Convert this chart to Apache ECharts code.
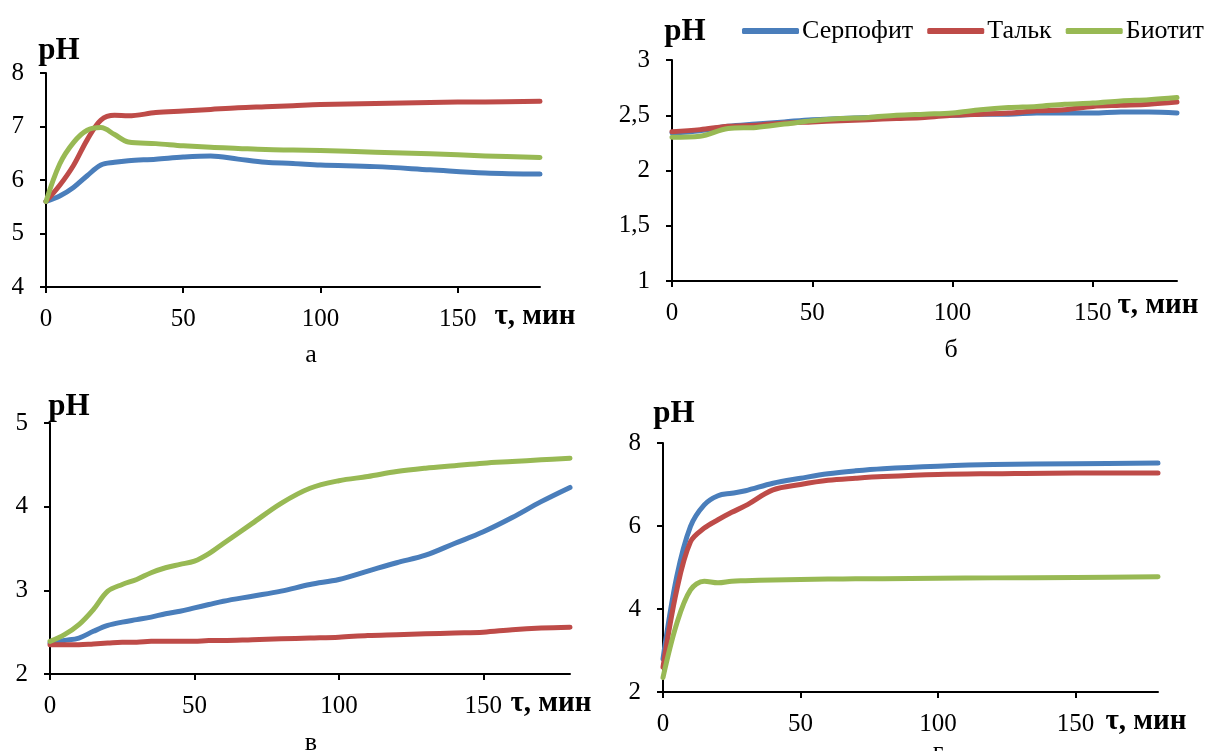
<!DOCTYPE html>
<html>
<head>
<meta charset="utf-8">
<script src="https://cdn.jsdelivr.net/npm/echarts@6/dist/echarts.min.js"></script>
<style>
html,body{margin:0;padding:0;background:#fff;}
#c{width:1209px;height:751px;}
</style>
</head>
<body>
<div id="c"></div>
<script>
// ---- data ----
const seriesNames = ['Серпофит', 'Тальк', 'Биотит'];
const xTicks = [0, 50, 100, 150];

// panel а
const tA = [0,5,10,15,20,25,30,40,50,60,70,80,90,100,120,140,160,180];
const aSerp  = [5.6,5.7,5.86,6.08,6.28,6.33,6.36,6.39,6.43,6.45,6.39,6.33,6.31,6.28,6.25,6.19,6.13,6.11];
const aTalk  = [5.6,5.9,6.27,6.75,7.12,7.21,7.2,7.26,7.29,7.32,7.35,7.37,7.39,7.41,7.43,7.45,7.46,7.47];
const aBiot  = [5.6,6.3,6.7,6.93,6.98,6.85,6.71,6.68,6.64,6.61,6.59,6.57,6.56,6.55,6.52,6.49,6.45,6.42];

// panel б
const tB = [0,10,20,30,40,50,60,70,80,90,100,110,120,130,140,150,160,170,180];
const bSerp  = [2.34,2.36,2.40,2.42,2.44,2.46,2.47,2.48,2.49,2.50,2.50,2.51,2.51,2.52,2.52,2.52,2.53,2.53,2.52];
const bTalk  = [2.35,2.37,2.40,2.41,2.43,2.44,2.45,2.46,2.47,2.48,2.50,2.51,2.52,2.54,2.55,2.58,2.59,2.60,2.62];
const bBiot  = [2.30,2.31,2.38,2.39,2.42,2.45,2.47,2.48,2.50,2.51,2.52,2.55,2.57,2.58,2.60,2.61,2.63,2.64,2.66];

// panel в
const tV = [0,5,10,15,20,25,30,35,40,45,50,55,60,70,80,90,100,110,120,130,140,150,160,170,180];
const vSerp  = [2.37,2.40,2.43,2.51,2.58,2.62,2.65,2.68,2.72,2.75,2.79,2.83,2.87,2.93,2.99,3.07,3.13,3.23,3.33,3.42,3.56,3.70,3.87,4.06,4.23];
const vTalk  = [2.35,2.35,2.35,2.36,2.37,2.38,2.38,2.39,2.39,2.39,2.39,2.40,2.40,2.41,2.42,2.43,2.44,2.46,2.47,2.48,2.49,2.50,2.53,2.55,2.56];
const vBiot  = [2.39,2.47,2.59,2.77,2.99,3.07,3.13,3.21,3.27,3.31,3.35,3.44,3.56,3.80,4.04,4.22,4.31,4.36,4.42,4.46,4.49,4.52,4.54,4.56,4.58];

// panel г
const tG = [0,5,10,15,20,25,30,40,50,60,70,80,100,120,150,180];
const gSerp  = [2.8,4.78,5.99,6.51,6.73,6.79,6.85,7.03,7.15,7.26,7.33,7.38,7.44,7.48,7.50,7.52];
const gTalk  = [2.6,4.46,5.62,5.95,6.15,6.33,6.49,6.87,7.0,7.10,7.15,7.19,7.24,7.26,7.28,7.28];
const gBiot  = [2.35,3.65,4.46,4.67,4.63,4.67,4.68,4.70,4.71,4.72,4.73,4.73,4.74,4.75,4.76,4.78];

// y axis ranges per panel
const yRanges = [
  {min: 4, max: 8, interval: 1},
  {min: 1, max: 3, interval: 0.5},
  {min: 2, max: 5, interval: 1},
  {min: 2, max: 8, interval: 2}
];

// ---- styling ----
const colors = ['#4a7ebb', '#be4b48', '#98b954'];
const FONT = '"Liberation Serif", "Times New Roman", serif';
const grids = [
  {left: 46, top: 73, width: 494, height: 214},
  {left: 672, top: 60, width: 505, height: 221},
  {left: 50, top: 423, width: 520, height: 251},
  {left: 663, top: 443, width: 495, height: 249}
];

const panels = [
  {t: tA, s: [aSerp, aTalk, aBiot]},
  {t: tB, s: [bSerp, bTalk, bBiot]},
  {t: tV, s: [vSerp, vTalk, vBiot]},
  {t: tG, s: [gSerp, gTalk, gBiot]}
];

const axisLineStyle = {show: true, lineStyle: {color: '#000', width: 2}};
const tickStyle = {show: true, length: 6, lineStyle: {color: '#000', width: 2}};

const xAxis = grids.map((g, i) => ({
  type: 'value', gridIndex: i, min: 0, max: 180, interval: 50,
  axisLine: axisLineStyle,
  axisTick: Object.assign({customValues: xTicks}, tickStyle),
  axisLabel: {customValues: xTicks, margin: 20, fontSize: 25, fontFamily: FONT, color: '#000'},
  splitLine: {show: false}
}));

const yAxis = grids.map((g, i) => ({
  type: 'value', gridIndex: i,
  min: yRanges[i].min, max: yRanges[i].max, interval: yRanges[i].interval,
  axisLine: axisLineStyle,
  axisTick: tickStyle,
  axisLabel: {margin: 22, fontSize: 25, fontFamily: FONT, color: '#000',
    formatter: v => String(v).replace('.', ',')},
  splitLine: {show: false}
}));

const series = [];
panels.forEach((p, i) => {
  p.s.forEach((vals, k) => {
    series.push({
      type: 'line', name: seriesNames[k], xAxisIndex: i, yAxisIndex: i,
      data: p.t.map((t, j) => [t, vals[j]]),
      smooth: 0.35, showSymbol: false, symbol: 'none',
      lineStyle: {width: 5, color: colors[k], cap: 'round', join: 'round'},
      itemStyle: {color: colors[k]},
      silent: true, animation: false
    });
  });
});

function txt(x, y, s, size, bold) {
  return {type: 'text', x: x, y: y, style: {text: s, fontSize: size, fontFamily: FONT,
    fontWeight: bold ? 'bold' : 'normal', fill: '#000', textAlign: 'center', textVerticalAlign: 'middle'}};
}

const graphic = [
  txt(59, 51, 'pH', 31, true),
  txt(685, 32, 'pH', 31, true),
  txt(69, 407, 'pH', 31, true),
  txt(674, 414, 'pH', 31, true),
  txt(535, 317, 'τ, мин', 29, true),
  txt(1158, 306, 'τ, мин', 29, true),
  txt(551, 704, 'τ, мин', 29, true),
  txt(1146, 722, 'τ, мин', 29, true),
  txt(311, 355, 'а', 26, false),
  txt(951, 350, 'б', 26, false),
  txt(311, 743, 'в', 26, false),
  txt(938, 752, 'г', 26, false)
];

const chart = echarts.init(document.getElementById('c'));
chart.setOption({
  animation: false,
  color: colors,
  grid: grids,
  xAxis: xAxis,
  yAxis: yAxis,
  series: series,
  graphic: graphic,
  legend: {
    data: seriesNames, left: 737, top: 13, icon: 'roundRect',
    itemWidth: 57, itemHeight: 6, itemGap: 14,
    textStyle: {fontSize: 26, fontFamily: FONT, color: '#000', padding: [0, 0, 0, -2]}
  }
});
</script>
</body>
</html>
